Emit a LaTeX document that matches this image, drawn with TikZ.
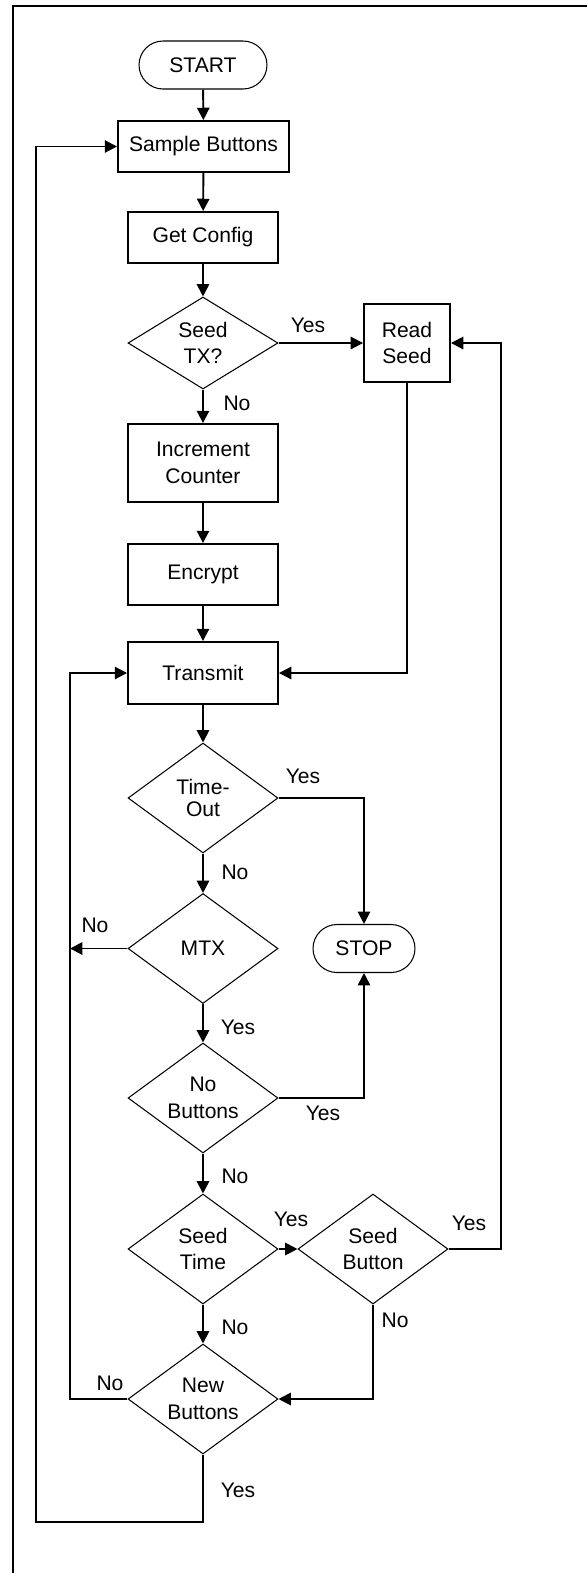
\documentclass[tikz,border=0pt]{standalone}
\usepackage{fontspec}
\setmainfont{Liberation Sans}
\usetikzlibrary{shapes.geometric,arrows.meta}

\begin{document}
\begin{tikzpicture}[
	x=0.02cm, y=-0.02cm,
	font=\fontsize{12}{15}\selectfont,
	procbox/.style={draw, line width=1.1pt, minimum width=3cm, minimum height=1.02cm, align=center, inner sep=0pt},
	decide/.style={draw, diamond, line width=0.6pt, shape aspect=1.4, minimum width=3cm, minimum height=2.2cm, align=center, inner sep=0pt},
	term/.style={draw, line width=0.6pt, rounded corners=0.48cm, minimum width=2.56cm, minimum height=0.96cm, inner sep=0pt},
	flow/.style={line width=1.1pt, -{Triangle[length=7pt,width=7pt]}},
	wire/.style={line width=1.1pt},
	lbl/.style={inner sep=0pt}]
\useasboundingbox (0,0) rectangle (587,1573);
\draw[wire] (13,1573) -- (13,6) -- (587,6);

\node[term] (start) at (203,65) {START};
\node[procbox, minimum width=3.42cm] (sample) at (203.5,146.5) {Sample Buttons};
\node[procbox] (config) at (203,237.5) {Get Config};
\node[decide, minimum height=1.84cm] (seedtx) at (203,343) {Seed\\TX?};
\node[procbox, minimum width=1.72cm, minimum height=1.56cm] (readseed) at (407,343) {Read\\Seed};
\node[procbox, minimum height=1.56cm] (incr) at (203,463) {Increment\\Counter};
\node[procbox, minimum height=1.22cm] (encrypt) at (203,574.5) {Encrypt};
\node[procbox, minimum height=1.24cm] (transmit) at (203,673) {Transmit};
\node[decide, font=\fontsize{12}{12.5}\selectfont] (timeout) at (203,798) {Time-\\Out};
\node[decide] (mtx) at (203,948.5) {MTX};
\node[term, minimum width=2.04cm] (stop) at (364,948.5) {STOP};
\node[decide] (nobtn) at (203,1098) {No\\Buttons};
\node[decide] (seedtime) at (203,1249) {Seed\\Time};
\node[decide] (seedbtn) at (373,1249) {Seed\\Button};
\node[decide] (newbtn) at (203,1399) {New\\Buttons};

\coordinate (inner) at (70,0);
\coordinate (rgt) at (501,0);
\coordinate (bot) at (36,1522);

\draw[flow] (start) -- (sample);
\draw[flow] (sample) -- (config);
\draw[flow] (config) -- (seedtx);
\draw[flow] (seedtx) -- (readseed);
\draw[flow] (seedtx) -- (incr);
\draw[flow] (incr) -- (encrypt);
\draw[flow] (encrypt) -- (transmit);
\draw[flow] (readseed.south) |- (transmit.east);
\draw[flow] (transmit) -- (timeout);
\draw[flow] (timeout.east) -| (stop.north);
\draw[flow] (timeout) -- (mtx);
\draw[flow] (mtx.west) -- (mtx.west -| inner);
\draw[flow] (mtx) -- (nobtn);
\draw[flow] (nobtn.east) -| (stop.south);
\draw[flow] (nobtn) -- (seedtime);
\draw[flow] (seedtime) -- (seedbtn);
\draw[flow] (seedtime) -- (newbtn);
\draw[flow] (seedbtn.east) -- (seedbtn.east -| rgt) |- (readseed.east);
\draw[flow] (seedbtn.south) |- (newbtn.east);
\draw[flow] (newbtn.west) -- (newbtn.west -| inner) |- (transmit.west);
\draw[flow] (newbtn.south) |- (bot) |- (sample.west);

\node[lbl] (l1) at (308,325) {Yes};
\node[lbl] (l2) at (237,403) {No};
\node[lbl] (l3) at (303,776) {Yes};
\node[lbl] (l4) at (235,872) {No};
\node[lbl] (l5) at (95,925) {No};
\node[lbl] (l6) at (238,1027) {Yes};
\node[lbl] (l7) at (323,1113) {Yes};
\node[lbl] (l8) at (235,1176) {No};
\node[lbl] (l9) at (291,1219) {Yes};
\node[lbl] (l10) at (469,1223) {Yes};
\node[lbl] (l11) at (235,1327) {No};
\node[lbl] (l12) at (395,1320) {No};
\node[lbl] (l13) at (110,1383) {No};
\node[lbl] (l14) at (238,1490) {Yes};
\end{tikzpicture}
\end{document}
